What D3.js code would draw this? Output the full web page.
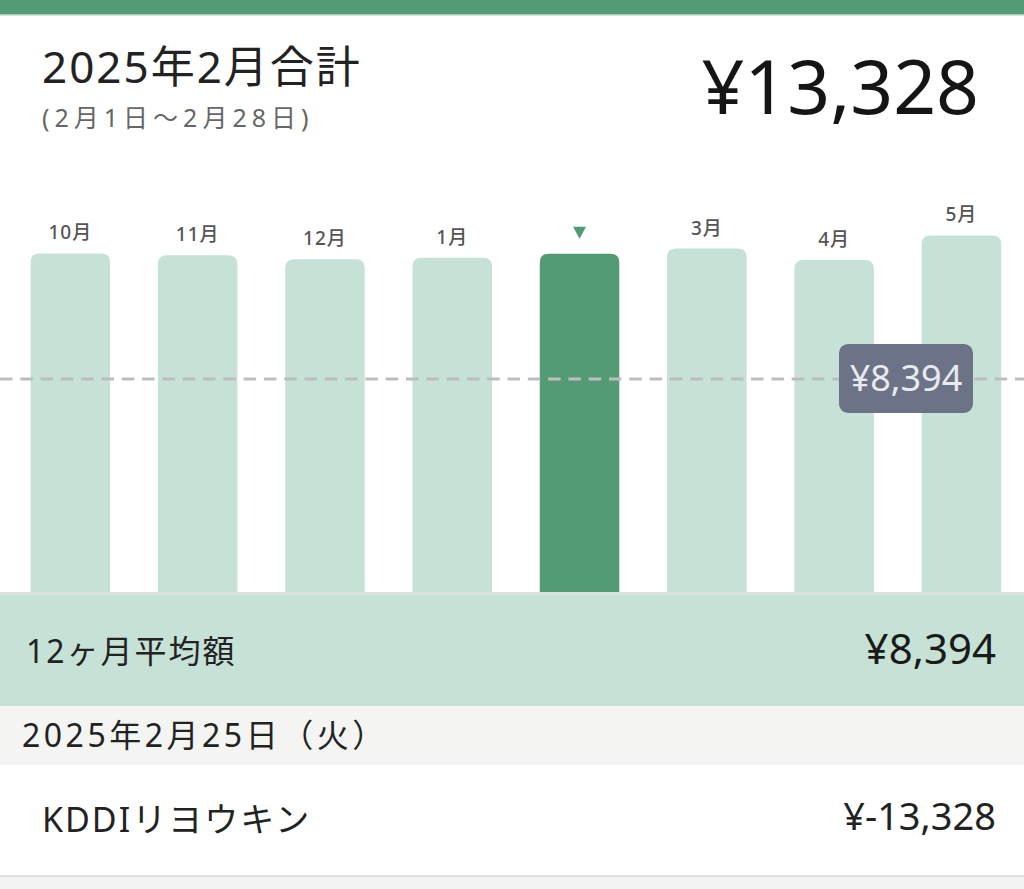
<!DOCTYPE html>
<html>
<head>
<meta charset="utf-8">
<script src="https://cdn.jsdelivr.net/npm/d3@7"></script>
<style>
  html, body { margin: 0; padding: 0; background: #ffffff; }
  svg { display: block; }
  text { font-family: "Noto Sans", "Noto Sans CJK JP", sans-serif; }
</style>
</head>
<body>
<svg id="chart" width="1024" height="889"></svg>
<script>
// ---- data ----
const months = ["10月", "11月", "12月", "1月", "2月", "3月", "4月", "5月"];
const totals = [13340, 13270, 13110, 13170, 13328, 13530, 13080, 14050];
const selectedMonth = "2月";
const averageValue = 8394;
const titleText = "2025年2月合計";
const periodText = "(2月1日〜2月28日)";
const totalText = "¥13,328";
const averageLabel = "12ヶ月平均額";
const dateLabel = "2025年2月25日（火）";
const itemNames = ["KDDIリヨウキン"];
const itemAmounts = [-13328];

const fmt = v => "¥" + d3.format(",")(v);

const svg = d3.select("#chart");
const W = 1024, H = 889;

// page background pieces
svg.append("rect").attr("x", 0).attr("y", 0).attr("width", W).attr("height", H).attr("fill", "#ffffff");
svg.append("rect").attr("x", 0).attr("y", 0).attr("width", W).attr("height", 14).attr("fill", "#529b74");
svg.append("rect").attr("x", 0).attr("y", 14).attr("width", W).attr("height", 1.5).attr("fill", "#a9cdb9");

// header
svg.append("text").attr("x", 42).attr("y", 83).attr("font-size", 44).attr("fill", "#222")
  .attr("letter-spacing", 2).text(titleText);
svg.append("text").attr("x", 42).attr("y", 127).attr("font-size", 25).attr("fill", "#666")
  .attr("letter-spacing", 5).text(periodText);
svg.append("text").attr("x", 979).attr("y", 114).attr("font-size", 75).attr("fill", "#151515")
  .attr("text-anchor", "end").text(totalText);

// scales
const x = d3.scaleBand().domain(months).range([6.7, 1025.1]).paddingInner(0.375).paddingOuter(0.1875);
const baseY = 592;
const y = d3.scaleLinear().domain([0, 15000]).range([baseY, baseY - 15000 * 0.02538]);

// bars with rounded top corners
function barPath(x0, y0, w, h, r) {
  r = Math.min(r, w / 2, h);
  return `M${x0},${y0 + h}V${y0 + r}Q${x0},${y0} ${x0 + r},${y0}H${x0 + w - r}Q${x0 + w},${y0} ${x0 + w},${y0 + r}V${y0 + h}Z`;
}
const data = months.map((m, i) => ({ month: m, value: totals[i] }));

svg.append("g").selectAll("path").data(data).join("path")
  .attr("d", d => barPath(x(d.month), y(d.value), x.bandwidth(), baseY - y(d.value), 9))
  .attr("fill", d => d.month === selectedMonth ? "#529b74" : "#c6e1d6");

// month labels / marker
const lab = svg.append("g");
lab.selectAll("text").data(data.filter(d => d.month !== selectedMonth)).join("text")
  .attr("x", d => x(d.month) + x.bandwidth() / 2)
  .attr("y", d => y(d.value) - 14)
  .attr("text-anchor", "middle")
  .attr("font-size", 19)
  .attr("font-weight", 500)
  .attr("letter-spacing", 1)
  .attr("fill", "#555")
  .text(d => d.month);
const sel = data.find(d => d.month === selectedMonth);
const cx = x(sel.month) + x.bandwidth() / 2;
const ty = y(sel.value) - 15;
lab.append("path")
  .attr("d", `M${cx - 6.5},${ty - 12}L${cx + 6.5},${ty - 12}L${cx},${ty}Z`)
  .attr("fill", "#529b74");

// average dashed line
const ay = y(averageValue);
svg.append("line").attr("x1", 0).attr("x2", W).attr("y1", ay).attr("y2", ay)
  .attr("stroke", "#bdbdbd").attr("stroke-width", 3).attr("stroke-dasharray", "12.5,7.8");

// tooltip
const tip = svg.append("g").attr("transform", `translate(839,${ay - 35})`);
tip.append("rect").attr("width", 134).attr("height", 69).attr("rx", 9).attr("fill", "#6c7386");
tip.append("text").attr("x", 67).attr("y", 47).attr("text-anchor", "middle")
  .attr("font-size", 36).attr("fill", "#e8eaef").text(fmt(averageValue));

// summary band
svg.append("rect").attr("x", 0).attr("y", baseY).attr("width", W).attr("height", 2.5).attr("fill", "#dedede");
svg.append("rect").attr("x", 0).attr("y", baseY + 2.5).attr("width", W).attr("height", 706 - baseY - 2.5).attr("fill", "#c6e1d6");
svg.append("text").attr("x", 26).attr("y", 663).attr("font-size", 32).attr("fill", "#222")
  .attr("letter-spacing", 2).text(averageLabel);
svg.append("text").attr("x", 996).attr("y", 664).attr("font-size", 42).attr("fill", "#1a1a1a")
  .attr("text-anchor", "end").text(fmt(averageValue));

// date row
svg.append("rect").attr("x", 0).attr("y", 706).attr("width", W).attr("height", 59).attr("fill", "#f4f4f2");
svg.append("text").attr("x", 22).attr("y", 747).attr("font-size", 32).attr("fill", "#222")
  .attr("letter-spacing", 3.5).text(dateLabel);

// item rows
itemNames.forEach((name, i) => {
  const top = 765 + i * 111;
  svg.append("text").attr("x", 42).attr("y", top + 67).attr("font-size", 34).attr("fill", "#222")
    .attr("letter-spacing", 2).text(name);
  svg.append("text").attr("x", 996).attr("y", top + 65).attr("font-size", 38).attr("fill", "#222")
    .attr("text-anchor", "end").text("¥" + d3.format(",")(itemAmounts[i]).replace("−", "-"));
  svg.append("rect").attr("x", 0).attr("y", top + 110).attr("width", W).attr("height", 2.5).attr("fill", "#e2e2e2");
});
svg.append("rect").attr("x", 0).attr("y", 765 + itemNames.length * 111 + 1.5).attr("width", W).attr("height", H).attr("fill", "#f3f3f3");
</script>
</body>
</html>
